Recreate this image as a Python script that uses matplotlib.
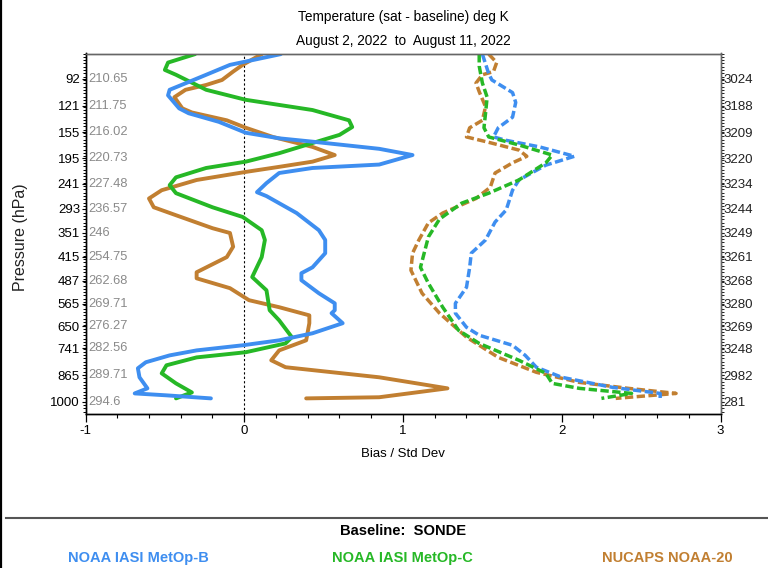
import numpy as np
import matplotlib
matplotlib.use("Agg")
import matplotlib.pyplot as plt
from matplotlib.lines import Line2D
from matplotlib.transforms import blended_transform_factory

# ---------------------------------------------------------------------------
# Axis annotations
# ---------------------------------------------------------------------------
levels = [92, 121, 155, 195, 241, 293, 351, 415, 487, 565, 650, 741, 865, 1000]
mean_temp = ["210.65", "211.75", "216.02", "220.73", "227.48", "236.57", "246",
             "254.75", "262.68", "269.71", "276.27", "282.56", "289.71", "294.6"]
sample_counts = ["3024", "3188", "3209", "3220", "3234", "3244", "3249",
                 "3261", "3268", "3280", "3269", "3248", "2982", "281"]

# ---------------------------------------------------------------------------
# Bias profiles (sat - sonde, K) vs pressure (hPa)
# ---------------------------------------------------------------------------
metopb_bias_p = [70, 79, 88, 95, 103, 109, 124, 130, 141, 156, 164, 169, 180, 190,
                 206, 212, 221, 240, 258, 266, 303, 344, 369, 405, 446, 464, 486,
                 529, 564, 589, 600, 638, 678, 707, 728, 750, 772, 803, 831, 874,
                 929, 955, 965, 981]
metopb_bias = [0.23, -0.09, -0.24, -0.35, -0.47, -0.48, -0.41, -0.35, -0.16, 0.01,
               0.22, 0.43, 0.85, 1.06, 0.85, 0.43, 0.22, 0.14, 0.08, 0.14, 0.33,
               0.47, 0.51, 0.51, 0.43, 0.36, 0.36, 0.47, 0.57, 0.57, 0.55, 0.62,
               0.43, 0.22, -0.01, -0.30, -0.47, -0.62, -0.67, -0.66, -0.61, -0.69,
               -0.49, -0.21]

metopc_bias_p = [70, 77, 83.5, 88, 103, 114, 126, 139, 148, 159, 174, 187, 201, 212,
                 229, 244, 260, 290, 312, 344, 369, 416, 476, 519, 589, 627, 694,
                 720, 758, 781, 817, 855, 904, 950, 981]
metopc_bias = [-0.31, -0.48, -0.50, -0.43, -0.24, 0.01, 0.43, 0.66, 0.68, 0.60,
               0.39, 0.22, 0.01, -0.24, -0.43, -0.47, -0.43, -0.20, -0.01, 0.11,
               0.13, 0.11, 0.05, 0.14, 0.16, 0.22, 0.30, 0.26, 0.01, -0.30, -0.49,
               -0.52, -0.43, -0.33, -0.43]

nucaps_bias_p = [70, 79, 85, 93, 98, 103, 111, 124, 129, 139, 149, 162, 177, 190,
                 201, 210, 219, 234, 254, 271, 290, 308, 339, 351, 387, 416, 461,
                 480, 512, 553, 578, 608, 638, 707, 750, 794, 826, 874, 929, 975, 981]
nucaps_bias = [0.11, -0.01, -0.07, -0.14, -0.24, -0.37, -0.44, -0.39, -0.33, -0.11,
               0.01, 0.18, 0.43, 0.57, 0.43, 0.22, 0.01, -0.30, -0.52, -0.60, -0.57,
               -0.43, -0.20, -0.09, -0.07, -0.11, -0.30, -0.30, -0.09, 0.03, 0.22,
               0.41, 0.41, 0.39, 0.22, 0.17, 0.26, 0.85, 1.28, 0.85, 0.39]

# ---------------------------------------------------------------------------
# Standard deviation profiles (K) vs pressure (hPa)
# ---------------------------------------------------------------------------
metopb_std_p = [70, 87, 93, 106, 117, 135, 149, 162, 167, 177, 192, 207, 234, 254,
                296, 324, 369, 405, 446, 509, 564, 600, 654, 686, 728, 772, 826,
                874, 924, 955, 981]
metopb_std = [1.50, 1.54, 1.56, 1.69, 1.71, 1.69, 1.60, 1.57, 1.65, 1.86, 2.08,
              1.90, 1.73, 1.69, 1.65, 1.58, 1.52, 1.43, 1.42, 1.40, 1.33, 1.33,
              1.40, 1.48, 1.69, 1.77, 1.84, 2.00, 2.32, 2.62, 2.62]

metopc_std_p = [70, 80, 96, 111, 130, 149, 162, 174, 190, 203, 234, 260, 281, 317,
                361, 446, 496, 578, 666, 720, 794, 855, 904, 929, 955, 981]
metopc_std = [1.48, 1.48, 1.50, 1.53, 1.52, 1.51, 1.54, 1.73, 1.94, 1.90, 1.73,
              1.54, 1.37, 1.23, 1.16, 1.11, 1.16, 1.25, 1.35, 1.48, 1.73, 1.90,
              1.94, 2.11, 2.44, 2.25]

nucaps_std_p = [70, 77, 85, 88, 96, 105, 122, 139, 149, 162, 170, 182, 192, 203,
                221, 248, 271, 303, 326, 369, 405, 455, 529, 600, 694, 781, 850,
                899, 929, 955, 981]
nucaps_std = [1.54, 1.59, 1.57, 1.50, 1.46, 1.48, 1.52, 1.50, 1.42, 1.40, 1.54,
              1.73, 1.78, 1.69, 1.58, 1.55, 1.46, 1.25, 1.16, 1.10, 1.06, 1.05,
              1.12, 1.23, 1.40, 1.60, 1.84, 2.11, 2.42, 2.72, 2.34]

BLUE = "#3e8ef0"
GREEN = "#26b826"
BROWN = "#c17f31"

plt.rcParams["font.family"] = ["Liberation Sans", "DejaVu Sans"]


def p_fwd(p):
    return np.power(np.clip(p, 1e-6, None), 2.0 / 7.0)


def p_inv(s):
    return np.power(np.clip(s, 1e-6, None), 3.5)


W, H = 768, 568
fig = plt.figure(figsize=(W / 100, H / 100), dpi=100)
fig.patch.set_facecolor("white")

ax_l, ax_r, ax_t, ax_b = 85.5, 720.5, 53.5, 414.0
ax = fig.add_axes([ax_l / W, 1 - ax_b / H, (ax_r - ax_l) / W, (ax_b - ax_t) / H])
ax.set_yscale("function", functions=(p_fwd, p_inv))
ax.set_xlim(-1, 3)
ax.set_ylim(1066, 69.5)

# zero reference line
ax.axvline(0, color="black", lw=0.8, ls=(0, (2, 2)), zorder=1)

solid = dict(lw=2.8, solid_capstyle="round", solid_joinstyle="round")
dashed = dict(lw=2.5, dash_capstyle="butt")

ax.plot(nucaps_bias, nucaps_bias_p, color=BROWN, **solid, zorder=3)
ax.plot(metopc_bias, metopc_bias_p, color=GREEN, **solid, zorder=4)
ax.plot(metopb_bias, metopb_bias_p, color=BLUE, **solid, zorder=5)

for vals, pres, col, z in [(nucaps_std, nucaps_std_p, BROWN, 3),
                           (metopb_std, metopb_std_p, BLUE, 4),
                           (metopc_std, metopc_std_p, GREEN, 5)]:
    ln, = ax.plot(vals, pres, color=col, **dashed, zorder=z)
    ln.set_dashes([2.4, 1.0])

# x axis ticks
ax.set_xticks([-1, 0, 1, 2, 3])
ax.set_xticklabels(["-1", "0", "1", "2", "3"])
ax.set_xticks(np.arange(-1, 3.01, 0.2), minor=True)
ax.tick_params(axis="x", which="major", direction="out", length=6, width=0.9,
               labelsize=9.5, pad=2, top=False)
ax.tick_params(axis="x", which="minor", direction="out", length=3, width=0.8, top=False)

# y axis ticks: pressure on the left, sample counts on the right
minor_s = np.arange(3.36, 7.33, 0.0365)
ax.set_yticks(levels)
ax.set_yticklabels([str(v) for v in levels])
ax.set_yticks(p_inv(minor_s), minor=True)
ax.tick_params(axis="y", which="major", direction="out", length=3, width=0.8,
               labelsize=9.5, pad=1, right=False)
ax.tick_params(axis="y", which="minor", direction="out", length=2, width=0.7, right=False)

ax2 = ax.twinx()
ax2.set_yscale("function", functions=(p_fwd, p_inv))
ax2.set_ylim(ax.get_ylim())
ax2.set_yticks(levels)
ax2.set_yticklabels(sample_counts)
ax2.set_yticks(p_inv(minor_s), minor=True)
ax2.tick_params(axis="y", which="major", direction="out", length=2, width=0.8,
                labelsize=9.5, pad=0, colors="#222222")
ax2.tick_params(axis="y", which="minor", direction="out", length=2, width=0.7,
                colors="#222222")

for a in (ax, ax2):
    a.spines["left"].set_color("black")
    a.spines["bottom"].set_color("black")
    a.spines["top"].set_color("#666666")
    a.spines["right"].set_color("#666666")
    for s in a.spines.values():
        s.set_linewidth(1.0)

# mean sonde temperature beside each labelled level
trans = blended_transform_factory(ax.transAxes, ax.transData)
for p, t in zip(levels, mean_temp):
    ax.text(0.005, p, t, transform=trans, ha="left", va="center",
            fontsize=9.3, color="#8a8a8a", zorder=2)

ax.set_xlabel("Bias / Std Dev", fontsize=9.5, labelpad=8)
ax.set_ylabel("Pressure (hPa)", fontsize=11.5, color="#222222")
ax.yaxis.set_label_coords((28 - ax_l) / (ax_r - ax_l), 0.49)

# titles
fig.text(403 / W, 1 - 17 / H, "Temperature (sat - baseline) deg K",
         ha="center", va="center", fontsize=9.8)
fig.text(403 / W, 1 - 41 / H, "August 2, 2022  to  August 11, 2022",
         ha="center", va="center", fontsize=9.8)

# frame lines
fig.add_artist(Line2D([0.8 / W, 0.8 / W], [0, 1], transform=fig.transFigure,
                      color="black", lw=1.6))
fig.add_artist(Line2D([6 / W, 1], [1 - 517.5 / H] * 2, transform=fig.transFigure,
                      color="#555555", lw=1.5))

# legend block
fig.text(403 / W, 1 - 531 / H, "Baseline:  SONDE", ha="center", va="center",
         fontsize=10.6, fontweight="bold", color="black")
for label, col, xc in [("NOAA IASI MetOp-B", BLUE, 138),
                       ("NOAA IASI MetOp-C", GREEN, 402),
                       ("NUCAPS NOAA-20", BROWN, 667)]:
    fig.text(xc / W, 1 - 558 / H, label, ha="center", va="center",
             fontsize=10.5, fontweight="bold", color=col)

fig.savefig("out.png", dpi=100, facecolor="white")
